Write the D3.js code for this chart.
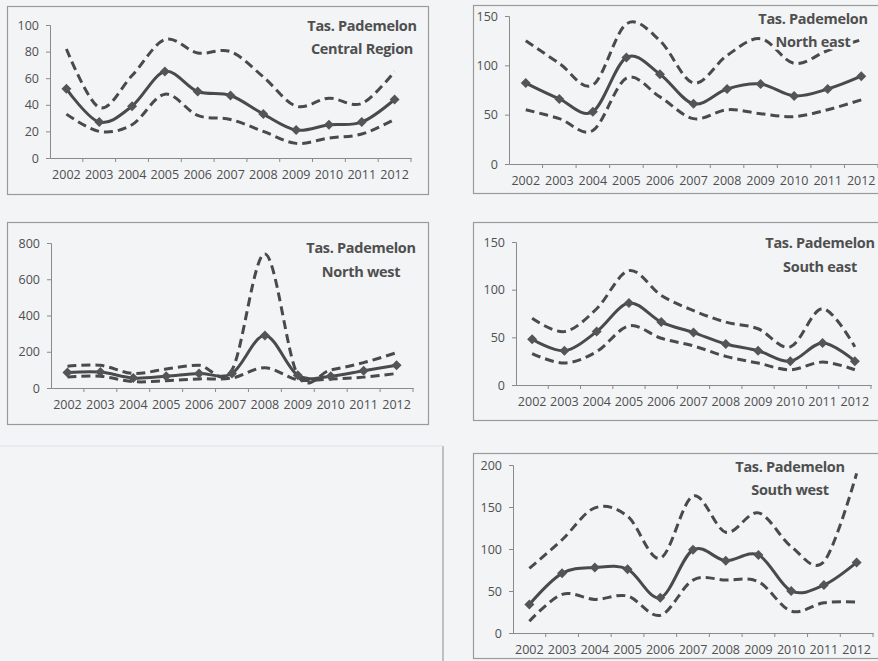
<!DOCTYPE html>
<html>
<head>
<meta charset="utf-8">
<script src="https://cdn.jsdelivr.net/npm/d3@7"></script>
<style>
  html, body { margin: 0; padding: 0; background: #f2f4f6; }
  svg { display: block; }
  text { font-family: "Open Sans", Lato, sans-serif; fill: #4f4f4f; }
</style>
</head>
<body>
<svg id="chart" width="878" height="661"></svg>
<script>
// Survey years (categories shared by every panel)
const years = ["2002", "2003", "2004", "2005", "2006", "2007", "2008", "2009", "2010", "2011", "2012"];

// Central Region: mean estimate and upper / lower bounds
const centralMean  = [52, 27, 39, 65, 50, 47, 33, 21, 25, 27, 44];
const centralUpper = [82, 38, 62, 89, 79, 80, 61, 39, 45, 41, 65];
const centralLower = [33, 20, 25, 48, 32, 29, 20, 11, 15, 18, 29];
const centralTicks = [0, 20, 40, 60, 80, 100];

// North east
const northEastMean  = [82, 66, 53, 108, 91, 61, 76, 81, 69, 76, 89];
const northEastUpper = [125, 102, 80, 142, 125, 82, 110, 127, 102, 115, 126];
const northEastLower = [55, 46, 34, 87, 68, 46, 55, 51, 48, 55, 65];
const northEastTicks = [0, 50, 100, 150];

// North west
const northWestMean  = [85, 88, 55, 65, 80, 80, 290, 70, 65, 95, 125];
const northWestUpper = [120, 125, 80, 105, 125, 100, 740, 70, 100, 140, 195];
const northWestLower = [60, 65, 35, 40, 50, 55, 112, 45, 50, 60, 80];
const northWestTicks = [0, 200, 400, 600, 800];

// South east
const southEastMean  = [48, 36, 56, 86, 66, 55, 43, 36, 25, 44, 25];
const southEastUpper = [70, 56, 80, 120, 94, 78, 66, 59, 40, 80, 40];
const southEastLower = [33, 23, 35, 62, 49, 41, 30, 23, 16, 24, 16];
const southEastTicks = [0, 50, 100, 150];

// South west
const southWestMean  = [34, 71, 78, 76, 42, 99, 86, 93, 50, 57, 84];
const southWestUpper = [77, 111, 149, 139, 89, 163, 120, 143, 103, 85, 190];
const southWestLower = [14, 46, 40, 44, 21, 63, 63, 61, 26, 36, 37];
const southWestTicks = [0, 50, 100, 150, 200];

const titleLine1 = "Tas. Pademelon";

// Panel layout: frame box, plot extents and title placement
const panels = [
  { sub: "Central Region", mean: centralMean, upper: centralUpper, lower: centralLower, ticks: centralTicks,
    box: [7, 6, 428, 194], xr: [50, 411], yr: [158, 25], tx: 362, ty: [31, 54] },
  { sub: "North east", mean: northEastMean, upper: northEastUpper, lower: northEastLower, ticks: northEastTicks,
    box: [473, 5, 890, 193], xr: [509, 878], yr: [164, 16], tx: 813, ty: [24, 47] },
  { sub: "North west", mean: northWestMean, upper: northWestUpper, lower: northWestLower, ticks: northWestTicks,
    box: [7, 222, 428, 424], xr: [51, 413], yr: [388, 243], tx: 361, ty: [253, 277] },
  { sub: "South east", mean: southEastMean, upper: southEastUpper, lower: southEastLower, ticks: southEastTicks,
    box: [473, 222, 890, 420], xr: [516, 871], yr: [385, 242], tx: 820, ty: [248, 272] },
  { sub: "South west", mean: southWestMean, upper: southWestUpper, lower: southWestLower, ticks: southWestTicks,
    box: [473, 453, 890, 658], xr: [513, 873], yr: [633, 465], tx: 790, ty: [472, 495] }
];

const svg = d3.select("#chart");
const font = "'Open Sans', Lato, sans-serif";

// faint frame of the empty lower-left area
svg.append("line").attr("x1", 443).attr("x2", 443).attr("y1", 446).attr("y2", 661)
  .attr("stroke", "#8c8c8c").attr("stroke-width", 1);
svg.append("line").attr("x1", 0).attr("x2", 443).attr("y1", 446).attr("y2", 446)
  .attr("stroke", "#e0e3e7").attr("stroke-width", 1);

const lineColor = "#4a4a4a";
const curve = d3.curveCardinal.tension(0);

panels.forEach(p => {
  const g = svg.append("g");
  const [bx0, by0, bx1, by1] = p.box;

  g.append("rect")
    .attr("x", bx0 + 0.5).attr("y", by0 + 0.5)
    .attr("width", bx1 - bx0).attr("height", by1 - by0)
    .attr("fill", "none").attr("stroke", "#9a9a9a").attr("stroke-width", 1.2);

  const x = d3.scaleBand().domain(years).range(p.xr);
  const y = d3.scaleLinear().domain([0, d3.max(p.ticks)]).range(p.yr);
  const cx = d => x(d) + x.bandwidth() / 2;

  // y axis
  const ya = g.append("g").attr("transform", `translate(${p.xr[0]},0)`)
    .call(d3.axisLeft(y).tickValues(p.ticks).tickSize(4).tickPadding(7).tickFormat(d3.format("d")));
  ya.select(".domain").attr("stroke", "#8a8a8a");
  ya.selectAll(".tick line").attr("stroke", "#8a8a8a");
  ya.selectAll(".tick text").attr("font-size", 12.5).attr("fill", "#505050").attr("font-family", font);

  // x axis (ticks sit between categories)
  const xa = g.append("g").attr("transform", `translate(0,${p.yr[0]})`)
    .call(d3.axisBottom(x).tickSize(0).tickPadding(12));
  xa.select(".domain").attr("stroke", "#8a8a8a");
  xa.selectAll(".tick text").attr("font-size", 12.5).attr("fill", "#505050").attr("font-family", font);
  g.selectAll(".sep").data(years)
    .join("line")
    .attr("x1", d => x(d) + x.step())
    .attr("x2", d => x(d) + x.step())
    .attr("y1", p.yr[0]).attr("y2", p.yr[0] + 4)
    .attr("stroke", "#8a8a8a");

  const line = d3.line().x((d, i) => cx(years[i])).y(d => y(d)).curve(curve);

  [p.upper, p.lower].forEach(vals => {
    g.append("path").attr("d", line(vals))
      .attr("fill", "none").attr("stroke", lineColor)
      .attr("stroke-width", 3).attr("stroke-dasharray", "9,5");
  });

  g.append("path").attr("d", line(p.mean))
    .attr("fill", "none").attr("stroke", lineColor).attr("stroke-width", 3);

  // diamond markers (rotated squares)
  g.selectAll(".mk").data(p.mean).join("path")
    .attr("d", d3.symbol(d3.symbolSquare, 50)())
    .attr("transform", (d, i) => `translate(${cx(years[i])},${y(d)}) rotate(45)`)
    .attr("fill", "#555");

  // title, with a paper-coloured halo so it sits over the lines
  [titleLine1, p.sub].forEach((t, i) => {
    g.append("text").text(t)
      .attr("x", p.tx).attr("y", p.ty[i])
      .attr("text-anchor", "middle")
      .attr("font-family", font)
      .attr("font-size", 14.5).attr("font-weight", "bold")
      .attr("letter-spacing", "-0.3px")
      .attr("fill", "#4f4f4f")
      .attr("stroke", "#f2f4f6").attr("stroke-width", 5)
      .attr("paint-order", "stroke");
  });
});
</script>
</body>
</html>
